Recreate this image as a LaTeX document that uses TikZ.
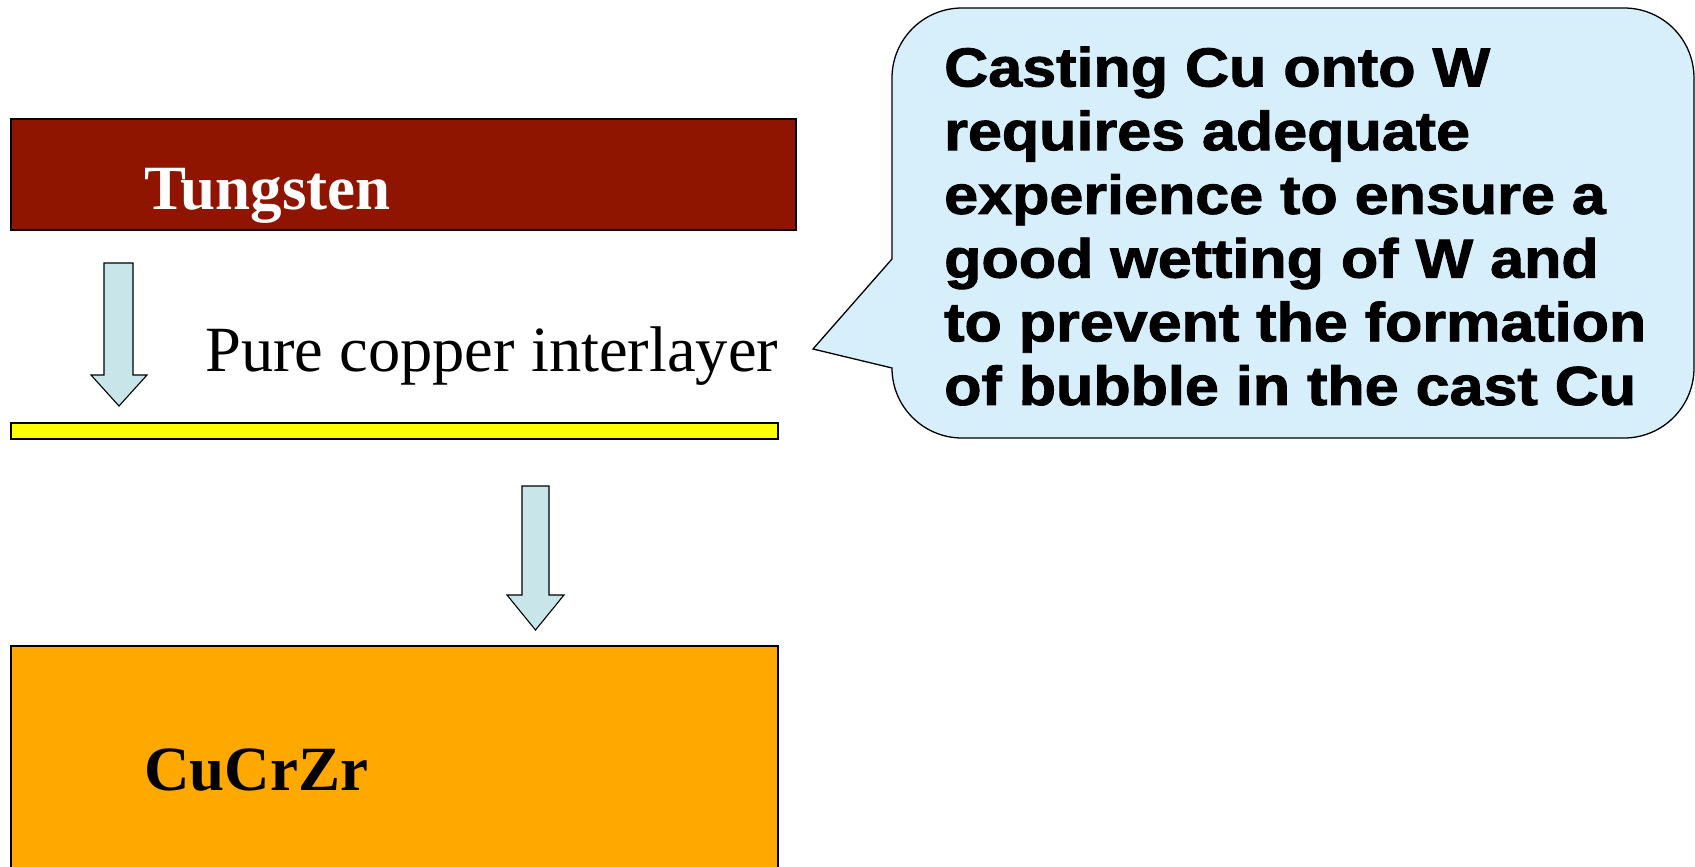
\documentclass[tikz,border=0pt]{standalone}
\usepackage{fontspec}
\setmainfont{Liberation Serif}
\newfontfamily\calloutfont{Liberation Sans}[BoldFeatures={FakeBold=1.6}]
\usepackage{graphicx}
\definecolor{wred}{RGB}{143,21,0}
\definecolor{cuyellow}{RGB}{255,255,0}
\definecolor{cuorange}{RGB}{255,168,0}
\definecolor{arrowfill}{RGB}{200,230,234}
\definecolor{callfill}{RGB}{215,238,251}
\begin{document}
\begin{tikzpicture}[x=1pt,y=-1pt,
  layer/.style={draw=black, line width=1.2, inner sep=0, outer sep=0},
  blockarrow/.style={draw=black, fill=arrowfill, line width=1.1, line join=miter},
  label/.style={anchor=base west, inner sep=0},
  bigbold/.style={font=\fontsize{63}{70}\selectfont\bfseries}]
\clip (0,0) rectangle (1695,867);
\fill[white] (0,0) rectangle (1695,867);

% layers
\node[layer, fill=wred, minimum width=785, minimum height=111] (wbox) at (403.5,174.5) {};
\node[layer, fill=cuyellow, minimum width=767, minimum height=16] (cubar) at (394.5,431) {};
\node[layer, fill=cuorange, minimum width=767, minimum height=240] (cucrzr) at (394.5,766) {};

\node[label, bigbold, text=white] (tungtext) at (144,209) {Tungsten};
\node[label, font=\fontsize{64.5}{72}\selectfont] (puretext) at (205,371) {Pure copper interlayer};
\node[label, bigbold] (cucrzrtext) at (144,790) {CuCrZr};

% block arrows
\draw[blockarrow] (104,263) -- (133,263) -- (133,375) -- (147,375) -- (119,406)
  -- (91,375) -- (104,375) -- cycle;
\draw[blockarrow] (522,486) -- (549,486) -- (549,595) -- (564,595) -- (535.5,630)
  -- (507,595) -- (522,595) -- cycle;

% callout
\draw[fill=callfill, line width=1.3, line join=miter]
  (892,259) -- (892,78) arc[start angle=180, end angle=270, radius=70]
  -- (1624,8) arc[start angle=270, end angle=360, radius=70]
  -- (1694,368) arc[start angle=0, end angle=90, radius=70]
  -- (962,438) arc[start angle=90, end angle=180, radius=70]
  -- (813,349) -- cycle;
\node[label] (callouttext) at (944,86.5) {\calloutfont\bfseries\fontsize{55}{63.7}\selectfont
  \scalebox{1.11}[1]{\begin{tabular}[t]{@{}l@{}}
  Casting Cu onto W\\
  requires adequate\\
  experience to ensure a\\
  good wetting of W and\\
  to prevent the formation\\
  of bubble in the cast Cu
  \end{tabular}}};
\end{tikzpicture}
\end{document}
